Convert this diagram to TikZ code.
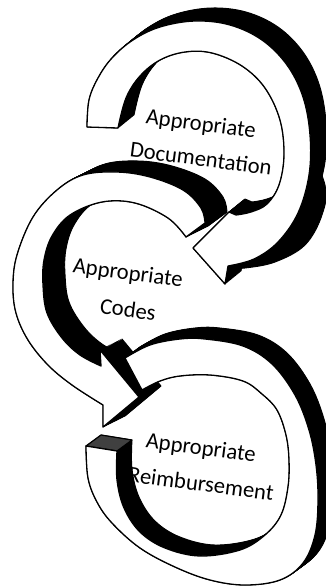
\documentclass[tikz,border=0pt]{standalone}
\usepackage{fontspec}
\setmainfont{Carlito}
\tikzset{
  face/.style={fill=white, draw=black, line width=1.1pt, line join=round},
  wall/.style={fill=black, draw=black, line width=0.8pt, line join=round},
  endcap/.style={fill=black!75, draw=black, line width=1pt, line join=round},
  lbl/.style={anchor=base, rotate=-7.5, inner sep=0pt, text=black, font=\fontsize{19.3}{24}\selectfont},
}
\newcommand\faceTop{plot[smooth,tension=0.6] coordinates {(87,127) (89,100) (98,78) (112,58) (133,40) (160,27) (195,21) (230,25) (262,40) (287,65) (303,97) (310,135) (309,175) (298,213) (278,242) (254,259) (228,266)} -- (225,284) -- (193,248) -- (229,212) -- plot[smooth,tension=0.6] coordinates {(236,215) (251,212) (267,204) (279,185) (284,155) (280,120) (265,88) (242,66) (212,53) (185,52) (160,60) (140,76) (126,98) (118,128)} -- cycle}
\newcommand\faceMid{plot[smooth,tension=0.6] coordinates {(205,223) (201,208) (183,190) (150,177) (117,172) (83,175) (57,190) (33,217) (17,255) (13,285) (16,313) (28,340) (48,365) (72,385) (103,405)} -- (103,427) -- (139,397) -- (100,350) -- plot[smooth,tension=0.6] coordinates {(101,366) (80,355) (62,338) (47,313) (43,285) (44,260) (52,236) (70,215) (102,202) (135,203) (168,218) (186,237)} -- cycle}
\newcommand\faceBot{plot[smooth,tension=0.6] coordinates {(125,358) (150,345) (180,339) (205,339) (243,346) (272,364) (295,395) (309,430) (316,465) (318,500) (315,535) (303,563) (280,580) (245,585) (210,580) (175,567) (140,548) (112,523) (97,502) (88,478) (86,446)} -- (117,451) -- plot[smooth,tension=0.6] coordinates {(117,451) (117,480) (124,508) (140,532) (165,548) (200,556) (240,550) (265,535) (281,515) (288,487) (289,460) (286,435) (277,410) (262,394) (243,381) (210,375) (180,376) (160,381) (142,390)} -- cycle}
\begin{document}
\begin{tikzpicture}[x=0.3mm, y=-0.3mm]
\useasboundingbox (0,0) rectangle (325,586);
% middle arrow
\foreach \q in {0,0.05,...,1.001}{\path[wall, shift={(22*\q,-11*\q)}] \faceMid;}
\path[face] \faceMid;
% bottom arrow (text lies behind its wall)
\node[lbl] (b1) at (200,455) {Appropriate};
\node[lbl] (b2) at (200,491) {Reimbursement};
\foreach \q in {0,0.05,...,1.001}{\path[wall, shift={(15*\q,-11*\q)}] \faceBot;}
\path[endcap] (86,446) -- (117,451) -- (132,440) -- (101,435) -- cycle;
\path[face] \faceBot;
% top arrow
\foreach \q in {0,0.05,...,1.001}{\path[wall, shift={(16*\q,-13*\q)}] \faceTop;}
\path[wall] plot[smooth,tension=0.6] coordinates {(306,140) (325,185) (322,215) (305,245) (275,262) (245,268) (229,268)} -- (229,262) -- (258,252) -- (285,232) -- (300,200) -- cycle;
\path[face] \faceTop;
% labels
\node[lbl] (t1) at (200,131) {Appropriate};
\node[lbl] (t2) at (200,166) {Documentation};
\node[lbl] (m1) at (127,280) {Appropriate};
\node[lbl] (m2) at (127,317) {Codes};
\end{tikzpicture}
\end{document}
